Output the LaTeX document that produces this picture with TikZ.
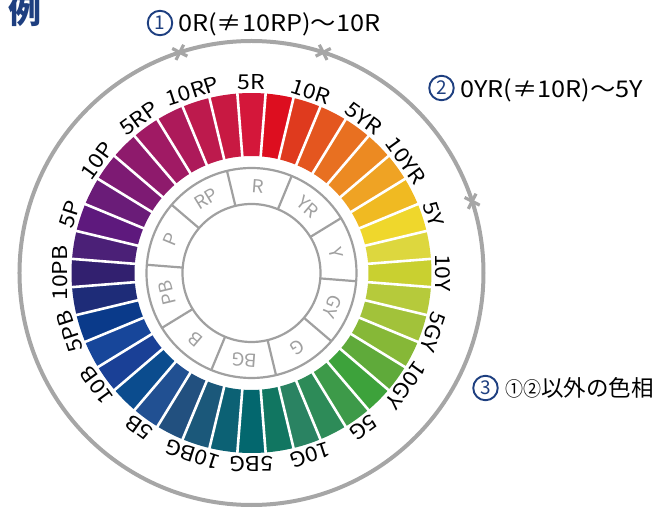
\documentclass[tikz,border=0pt]{standalone}
\usepackage{fontspec}
\setmainfont{Noto Sans CJK JP}
\usetikzlibrary{calc}
\definecolor{navy}{HTML}{1E3F80}
\definecolor{ringgray}{HTML}{A0A0A0}
\definecolor{circgray}{HTML}{A6A6A6}
\begin{document}
\begin{tikzpicture}[x=1pt,y=1pt,
  seglbl/.style={font=\fontsize{20.5}{20.5}\selectfont\addfontfeatures{FakeStretch=1.12}, inner sep=0pt, text=black},
  ringlbl/.style={font=\fontsize{18}{18}\selectfont\addfontfeatures{FakeStretch=1.05}, inner sep=0pt, text=ringgray},
  numcirc/.style={circle, draw=navy, line width=1.9pt, text=navy, inner sep=0pt, minimum size=24.5pt, font=\fontsize{19}{19}\selectfont},
  titletext/.style={font=\fontsize{23}{23}\selectfont\addfontfeatures{FakeStretch=1.1}, inner sep=0pt, anchor=base west},
  ringline/.style={ringgray, line width=2.2pt},
  markline/.style={circgray, line width=3.2pt}
]
\useasboundingbox (-251.5,-238) rectangle (407.5,273);
\clip (-251.5,-238) rectangle (407.5,273);
% colour segments
\foreach \c [count=\k from 0] in {D4173A,DD0E1F,DF3A1E,E4561F,E87021,EC8A22,EFA324,F0BA22,EFD72C,DDD73E,C9D030,B6CA3B,A2C23A,86B837,5FAA3A,3DA23B,3D9A49,2D8B58,2A8362,117661,03676E,0C6174,1B587A,22507F,215092,0B4C8E,1A4096,17469A,0A3A8A,1E2C78,32206F,4B2077,5E197D,6A1C78,7D1A73,8E1A6C,A01A64,AD1A5A,BD1A4D,C81942}{
  \definecolor{segc}{HTML}{\c}
  \pgfmathsetmacro\a{90-9*\k}
  \fill[segc] (\a-4.5:117pt) arc[start angle=\a-4.5, end angle=\a+4.5, radius=117pt] -- (\a+4.5:180pt) arc[start angle=\a+4.5, end angle=\a-4.5, radius=180pt] -- cycle;
}
\foreach \k in {0,...,39}{
  \draw[white, line width=2.6pt] ({94.5-9*\k}:114pt) -- ({94.5-9*\k}:183pt);
}
% outer labels
\foreach \t [count=\i from 0] in {5R,10R,5YR,10YR,5Y,10Y,5GY,10GY,5G,10G,5BG,10BG,5B,10B,5PB,10PB,5P,10P,5RP,10RP}{
  \node[seglbl, rotate={-18*\i}] (L\i) at ({90-18*\i}:191pt) {\t};
}
% inner ring
\draw[ringline] (0,0) circle[radius=105pt] (0,0) circle[radius=69pt];
\foreach \j in {0,...,9}{
  \draw[ringline] ({103.5-36*\j}:69pt) -- ({103.5-36*\j}:105pt);
}
\foreach \t [count=\j from 0] in {R,YR,Y,GY,G,BG,B,PB,P,RP}{
  \node[ringlbl, rotate={-4.5-36*\j}] (H\j) at ({85.5-36*\j}:87pt) {\t};
}
% outer grey circle with marks
\draw[circgray, line width=4pt] (0,0) circle[radius=232pt];
\foreach \m [count=\q] in {108,72,18}{
  \coordinate (M\q) at (\m:232pt);
  \draw[markline] ($(M\q)+({\m+45}:8.5pt)$) -- ($(M\q)+({\m-135}:8.5pt)$);
  \draw[markline] ($(M\q)+({\m-45}:8.5pt)$) -- ($(M\q)+({\m+135}:8.5pt)$);
}
% titles
\node[numcirc] (n1) at (-91.5,250) {1};
\node[titletext] (t1) at (-73.5,241) {0R(≠10RP)～10R};
\node[numcirc] (n2) at (190,185) {2};
\node[titletext] (t2) at (208.5,175.3) {0YR(≠10R)～5Y};
\node[numcirc] (n3) at (234,-115) {3};
\node[inner sep=0pt, anchor=base west] (t3) at (253.5,-124) {{\fontsize{20}{20}\selectfont\addfontfeatures{FakeStretch=0.9}①②}{\fontsize{22.5}{22.5}\selectfont 以外の色相}};
\node[font=\fontsize{33}{33}\selectfont\bfseries, text=navy, inner sep=0pt, anchor=base west] (ex) at (-243,249) {例};
\end{tikzpicture}
\end{document}
